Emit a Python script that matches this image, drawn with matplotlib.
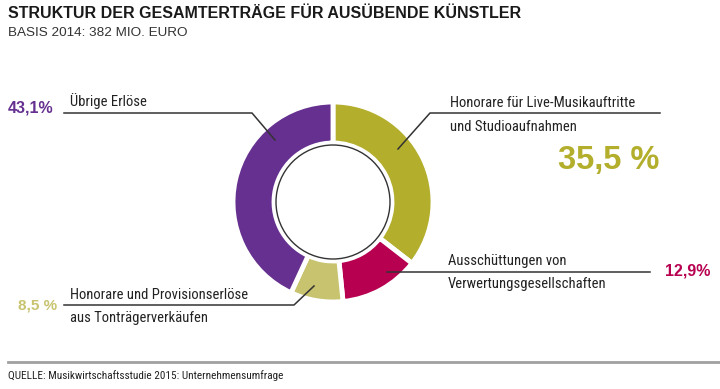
import matplotlib
matplotlib.use("Agg")
import matplotlib.pyplot as plt

categories = ["Honorare für Live-Musikauftritte\nund Studioaufnahmen",
              "Ausschüttungen von\nVerwertungsgesellschaften",
              "Honorare und Provisionserlöse\naus Tonträgerverkäufen",
              "Übrige Erlöse"]
values = [35.5, 12.9, 8.5, 43.1]
pct_labels = ["35,5 %", "12,9%", "8,5 %", "43,1%"]
colors = ["#b3ae2c", "#b70050", "#c8c36e", "#65308f"]

W, H = 720, 389
fig = plt.figure(figsize=(7.2, 3.89), dpi=100)
ax = fig.add_axes([0, 0, 1, 1])

def Y(y):
    return H - y

cx, cy = 333, Y(202)
R = 100
ax.pie(values, colors=colors, startangle=90, counterclock=False,
       center=(cx, cy), radius=R,
       wedgeprops=dict(width=41, edgecolor="white", linewidth=3.5))
circ = plt.Circle((cx, cy), 57, facecolor="white", edgecolor="#333333", lw=1.0, zorder=5)
ax.add_patch(circ)
ax.set_xlim(0, W)
ax.set_ylim(0, H)
ax.set_aspect("auto")
ax.axis("off")

cond = ["Roboto Condensed", "DejaVu Sans"]
sans = ["Liberation Sans", "DejaVu Sans"]

fig.text(8 / W, 1 - 14 / H, "STRUKTUR DER GESAMTERTRÄGE FÜR AUSÜBENDE KÜNSTLER",
         fontsize=11.5, fontweight="bold", family=sans, color="#1a1a1a", va="center")
fig.text(8 / W, 1 - 33 / H, "BASIS 2014: 382 MIO. EURO",
         fontsize=9.7, family=sans, color="#333333", va="center")

lc = "#333333"
lw = 1.1
fs = 10.5
tc = "#222222"
# Übrige Erlöse
ax.plot([64, 252, 275], [Y(113), Y(113), Y(140)], color=lc, lw=lw, zorder=6)
ax.text(70, Y(101), categories[3], fontsize=fs, family=cond, color=tc, va="center")
ax.text(8, Y(108), pct_labels[3], fontsize=11.5, fontweight="bold", family=sans,
        color=colors[3], va="center")
# Live
ax.plot([398, 430, 660], [Y(149), Y(113), Y(113)], color=lc, lw=lw, zorder=6)
l1, l2 = categories[0].split("\n")
ax.text(450, Y(103), l1, fontsize=fs, family=cond, color=tc, va="center")
ax.text(450, Y(127), l2, fontsize=fs, family=cond, color=tc, va="center")
ax.text(659, Y(160), pct_labels[0], fontsize=23.5, fontweight="bold", family=sans,
        color=colors[0], va="center", ha="right")
# Ausschüttungen
ax.plot([387, 650], [Y(272), Y(272)], color=lc, lw=lw, zorder=6)
l1, l2 = categories[1].split("\n")
ax.text(448, Y(261), l1, fontsize=fs, family=cond, color=tc, va="center")
ax.text(448, Y(284), l2, fontsize=fs, family=cond, color=tc, va="center")
ax.text(710, Y(271), pct_labels[1], fontsize=11.5, fontweight="bold", family=sans,
        color=colors[1], va="center", ha="right")
# Tonträger
ax.plot([314, 294, 64], [Y(286), Y(305), Y(305)], color=lc, lw=lw, zorder=6)
l1, l2 = categories[2].split("\n")
ax.text(70, Y(295), l1, fontsize=fs, family=cond, color=tc, va="center")
ax.text(70, Y(318), l2, fontsize=fs, family=cond, color=tc, va="center")
ax.text(57, Y(305), pct_labels[2], fontsize=11, fontweight="bold", family=sans,
        color=colors[2], va="center", ha="right")

# footer
ax.plot([8, 720], [Y(362), Y(362)], color="#a0a0a0", lw=2, zorder=6)
ax.text(8, Y(376), "QUELLE: Musikwirtschaftsstudie 2015: Unternehmensumfrage",
        fontsize=8.1, family=cond, color=tc, va="center")

fig.savefig("out.png", dpi=100)
